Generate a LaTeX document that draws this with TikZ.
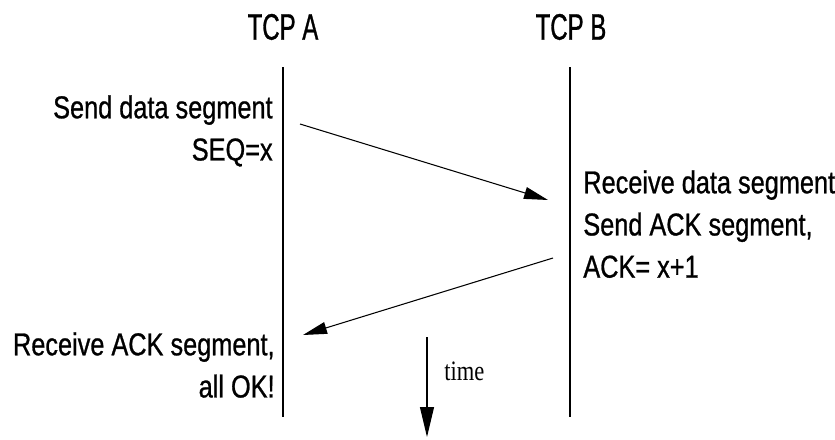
\documentclass[tikz,border=0pt]{standalone}
\usepackage{fontspec}
\setmainfont[FakeStretch=0.8, FakeBold=0.8]{Liberation Sans}
\newfontfamily\headfont[FakeStretch=0.65, FakeBold=0.8]{Liberation Sans}
\newfontfamily\timefont[FakeStretch=0.8]{Liberation Serif}
\usepackage{tikz}
\usetikzlibrary{positioning, arrows.meta}

\begin{document}
\begin{tikzpicture}[x=0.2mm, y=-0.2mm,
        msg/.style={-{Triangle[length=4.8mm, width=2.4mm]}, line width=0.6pt},
        note/.style={inner sep=0pt, font=\fontsize{18}{24}\selectfont},
        head/.style={inner sep=0pt, font=\headfont\fontsize{21}{25}\selectfont}]
        \useasboundingbox (0,0) rectangle (835,439);
        % TCP A and TCP B
        \node (tcpa) [head] at (283,27) {TCP A};
        \node (tcpb) [head] at (571,27) {TCP B};
        \coordinate (topa) at (283,67);
        \coordinate (bota) at (283,417);
        \coordinate (topb) at (570,67);
        \coordinate (botb) at (570,417);
        \draw[line width=0.6pt] (topa) -- (bota);
        \draw[line width=0.6pt] (topb) -- (botb);
        % data segment
        \node (senddata) [note, anchor=north east, align=right] at (273,95) {Send data segment\\SEQ=x};
        \coordinate (dataout) at (300,124);
        \coordinate (datain) at (548,200);
        \draw[msg] (dataout) -- (datain);
        \node (recvdata) [note, anchor=north west, align=left] at (583,170) {Receive data segment\\Send ACK segment,\\ACK= x+1};
        % ACK segment
        \coordinate (ackout) at (553,258);
        \coordinate (ackin) at (303,335);
        \draw[msg] (ackout) -- (ackin);
        \node (recvack) [note, anchor=north east, align=right] at (275,332) {Receive ACK segment,\\all OK!};
        % time
        \coordinate (timetop) at (427,337);
        \coordinate (timebot) at (427,437);
        \draw[msg, -{Triangle[length=6mm, width=2.8mm]}] (timetop) -- (timebot);
        \node (time) [inner sep=0pt, anchor=west, font=\timefont\fontsize{16}{19}\selectfont] at (444,371) {time};
    \end{tikzpicture}
\end{document}
